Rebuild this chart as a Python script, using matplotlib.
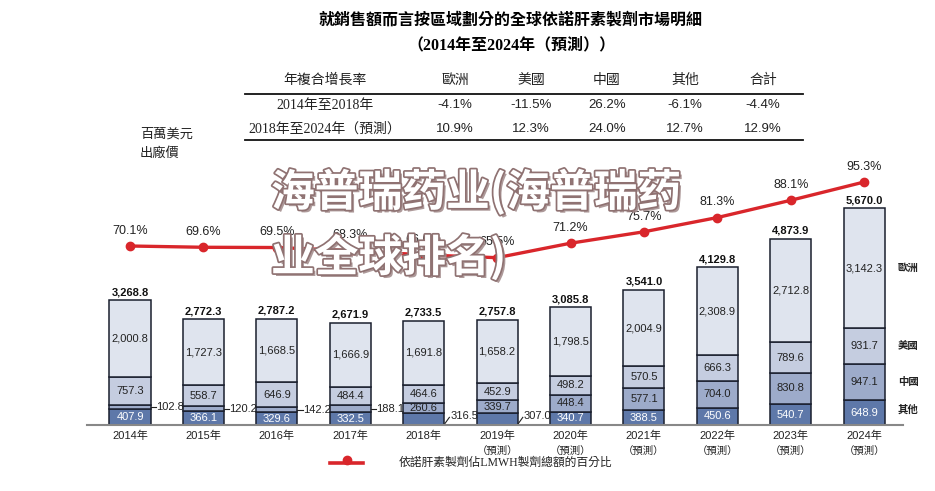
import matplotlib.pyplot as plt
import matplotlib.patheffects as pe
from matplotlib.lines import Line2D

years = ['2014年', '2015年', '2016年', '2017年', '2018年', '2019年', '2020年',
         '2021年', '2022年', '2023年', '2024年']
forecast = [False, False, False, False, False, True, True, True, True, True, True]
other = [407.9, 366.1, 329.6, 332.5, 316.5, 307.0, 340.7, 388.5, 450.6, 540.7, 648.9]
china = [102.8, 120.2, 142.2, 188.1, 260.6, 339.7, 448.4, 577.1, 704.0, 830.8, 947.1]
usa = [757.3, 558.7, 646.9, 484.4, 464.6, 452.9, 498.2, 570.5, 666.3, 789.6, 931.7]
europe = [2000.8, 1727.3, 1668.5, 1666.9, 1691.8, 1658.2, 1798.5, 2004.9, 2308.9, 2712.8, 3142.3]
totals = [3268.8, 2772.3, 2787.2, 2671.9, 2733.5, 2757.8, 3085.8, 3541.0, 4129.8, 4873.9, 5670.0]
share = [70.1, 69.6, 69.5, 68.3, 66.6, 65.5, 71.2, 75.7, 81.3, 88.1, 95.3]

cagr_cols = ['歐洲', '美國', '中國', '其他', '合計']
cagr_rows = ['2014年至2018年', '2018年至2024年（預測）']
cagr_1418 = ['-4.1%', '-11.5%', '26.2%', '-6.1%', '-4.4%']
cagr_1824 = ['10.9%', '12.3%', '24.0%', '12.7%', '12.9%']

colors = ['#5e78a9', '#9dabca', '#c5cde0', '#dfe4ee']

CJK = ['Noto Sans CJK TC', 'DejaVu Sans']
NUM = ['Liberation Sans', 'Noto Sans CJK TC']
SERIF = ['Liberation Serif', 'Noto Sans CJK TC']

fig = plt.figure(figsize=(9.35, 4.91), dpi=100)
ax = fig.add_axes([95 / 935, 66 / 491, 800 / 935, 265 / 491])
x = list(range(len(years)))

# stacked bars
bottoms = [0.0] * len(years)
for vals, c in zip([other, china, usa, europe], colors):
    ax.bar(x, vals, width=0.56, bottom=bottoms, color=c, edgecolor='#1a1f2e',
           linewidth=1.1, zorder=2)
    bottoms = [b + v for b, v in zip(bottoms, vals)]

fs = 8
for i in x:
    # other
    if i in (4, 5):
        ax.plot([i + 0.29, i + 0.35], [40, 200], color='#222', lw=0.8, clip_on=False)
        ax.text(i + 0.36, 240, f'{other[i]:,.1f}', fontsize=fs, family=NUM,
                ha='left', va='center', color='#222')
    else:
        ax.text(i, other[i] / 2, f'{other[i]:,.1f}', fontsize=fs, family=NUM,
                ha='center', va='center', color='white')
    # china
    yc = other[i] + china[i] / 2
    if i <= 3:
        ax.plot([i + 0.28, i + 0.35], [yc, yc], color='#222', lw=0.8, clip_on=False)
        ax.text(i + 0.355, yc, f'{china[i]:,.1f}', fontsize=fs, family=NUM,
                ha='left', va='center', color='#222')
    else:
        ax.text(i, yc, f'{china[i]:,.1f}', fontsize=fs, family=NUM,
                ha='center', va='center', color='#222')
    yu = other[i] + china[i] + usa[i] / 2
    ax.text(i, yu, f'{usa[i]:,.1f}', fontsize=fs, family=NUM,
            ha='center', va='center', color='#222')
    ye = other[i] + china[i] + usa[i] + europe[i] / 2
    ax.text(i, ye, f'{europe[i]:,.1f}', fontsize=fs, family=NUM,
            ha='center', va='center', color='#222')
    ax.text(i, totals[i] + 210, f'{totals[i]:,.1f}', fontsize=fs, family=NUM,
            ha='center', va='center', fontweight='bold', color='#111')
    ax.text(i, -290, years[i], fontsize=8, family=NUM, ha='center', va='center',
            color='#222')
    if forecast[i]:
        ax.text(i, -680, '（預測）', fontsize=7.5, family=CJK, ha='center',
                va='center', color='#222')

ax.set_xlim(-0.477, 10.42)
ax.set_ylim(0, 6937)
ax.axhline(0, xmin=-0.01, xmax=1.01, color='#888', lw=1.5, clip_on=False, zorder=3)
ax.axis('off')

# region labels at right
for name, y in zip(['歐洲', '美國', '中國', '其他'], [4110, 2068, 1126, 393]):
    ax.text(10.46, y, name, fontsize=7.5, family=CJK, fontweight='bold',
            ha='left', va='center', color='#222')

# share line
ax2 = ax.twinx()
ax2.set_ylim(-0.37, 103.96)
ax2.plot(x, share, color='#d9262b', lw=2.4, marker='o', markersize=6, zorder=5)
for i in x:
    ax2.text(i, share[i] + 6, f'{share[i]:.1f}%', fontsize=9, family=NUM,
             ha='center', va='center', color='#222')
ax2.axis('off')

# titles
fig.text(511 / 935, 1 - 20 / 491, '就銷售額而言按區域劃分的全球依諾肝素製劑市場明細',
         fontsize=11.5, family=CJK, fontweight='bold', ha='center', va='center')
fig.text(511 / 935, 1 - 45 / 491, '（2014年至2024年（預測））',
         fontsize=11.5, family=SERIF, fontweight='bold', ha='center', va='center')

# CAGR table
col_x = [455, 531, 607, 685, 763]
fig.text(325 / 935, 1 - 80 / 491, '年複合增長率', fontsize=10, family=CJK,
         ha='center', va='center', color='#222')
for cx, name in zip(col_x, cagr_cols):
    fig.text(cx / 935, 1 - 80 / 491, name, fontsize=10, family=CJK,
             ha='center', va='center', color='#222')
for ry, label, vals in zip([105, 129], cagr_rows, [cagr_1418, cagr_1824]):
    fig.text(325 / 935, 1 - ry / 491, label, fontsize=10, family=SERIF,
             ha='center', va='center', color='#222')
    for cx, v in zip(col_x, vals):
        fig.text(cx / 935, 1 - ry / 491, v, fontsize=9.5, family=NUM,
                 ha='center', va='center', color='#222')
for ly in [94, 140]:
    fig.add_artist(Line2D([245 / 935, 803 / 935], [1 - ly / 491, 1 - ly / 491],
                          color='#111', lw=1.3))

fig.text(140 / 935, 1 - 134 / 491, '百萬美元', fontsize=9.5, family=CJK,
         ha='left', va='center', color='#222')
fig.text(140 / 935, 1 - 153 / 491, '出廠價', fontsize=9.5, family=CJK,
         ha='left', va='center', color='#222')

# legend
fig.add_artist(Line2D([330 / 935, 363 / 935], [1 - 463 / 491, 1 - 463 / 491],
                      color='#d9262b', lw=2.6))
fig.add_artist(Line2D([347 / 935], [1 - 460 / 491], color='#d9262b',
                      marker='o', markersize=6))
fig.text(399 / 935, 1 - 463 / 491, '依諾肝素製劑佔LMWH製劑總額的百分比',
         fontsize=8.5, family=SERIF, ha='left', va='center', color='#222')

# watermark
wm_fx = [pe.SimplePatchShadow(offset=(2, -2), shadow_rgbFace='#a48e8e', alpha=0.9),
         pe.withStroke(linewidth=2.5, foreground='#8f7272')]
for txt, wy in [('海普瑞药业(海普瑞药', 192), ('业全球排名)', 257)]:
    fig.text(271 / 935, 1 - wy / 491, txt, fontsize=31.5,
             family=['Noto Sans CJK SC'], fontweight='heavy', color='white',
             ha='left', va='center', path_effects=wm_fx, zorder=10)

fig.savefig('out.png', dpi=100)
